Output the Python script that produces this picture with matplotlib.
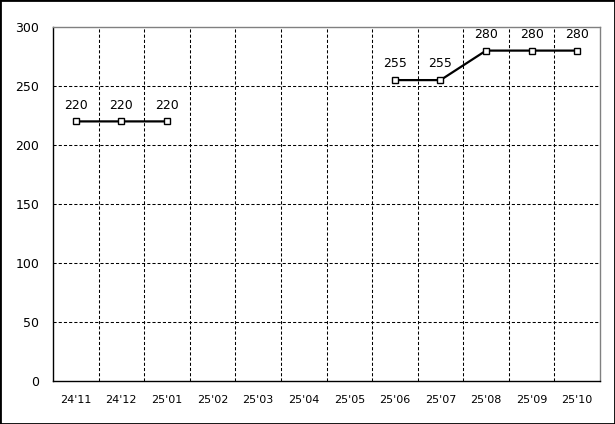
import numpy as np
import matplotlib.pyplot as plt
from matplotlib.patches import Rectangle

months = ["24'11", "24'12", "25'01", "25'02", "25'03", "25'04",
          "25'05", "25'06", "25'07", "25'08", "25'09", "25'10"]
values = [220, 220, 220, None, None, None, None, 255, 255, 280, 280, 280]
yticks = [0, 50, 100, 150, 200, 250, 300]

fig = plt.figure(figsize=(6.15, 4.24), dpi=100)
ax = fig.add_axes([53 / 615, 1 - 381 / 424, 547 / 615, 354 / 424])

x = np.arange(len(months))
y = np.array([np.nan if v is None else v for v in values], dtype=float)
ax.plot(x, y, color='black', linewidth=1.6, marker='s', markersize=5,
        markerfacecolor='white', markeredgecolor='black', markeredgewidth=1)
for xi, v in zip(x, values):
    if v is not None:
        ax.annotate(str(v), (xi, v), xytext=(0, 7), textcoords='offset points',
                    ha='center', va='bottom', fontsize=9)

ax.set_xlim(-0.5, len(months) - 0.5)
ax.set_ylim(0, 300)
ax.set_xticks(x)
ax.set_xticklabels(months, fontsize=8)
ax.set_yticks(yticks)
ax.set_yticklabels([str(t) for t in yticks], fontsize=9)
ax.tick_params(axis='x', length=0, pad=10)
ax.tick_params(axis='y', length=0, pad=10)

dash = (0, (3, 2))
for b in np.arange(0.5, len(months) - 1, 1.0):
    ax.axvline(b, color='black', linewidth=0.75, linestyle=dash, zorder=0)
for t in yticks[1:-1]:
    ax.axhline(t, color='black', linewidth=0.75, linestyle=dash, zorder=0)

ax.spines['left'].set_color('black')
ax.spines['bottom'].set_color('black')
ax.spines['top'].set_color('#808080')
ax.spines['right'].set_color('#808080')
for s in ax.spines.values():
    s.set_linewidth(1)

fig.patches.append(Rectangle((0, 0), 1, 1, transform=fig.transFigure,
                             fill=False, edgecolor='black', linewidth=2))

fig.savefig('out.png', dpi=100)
